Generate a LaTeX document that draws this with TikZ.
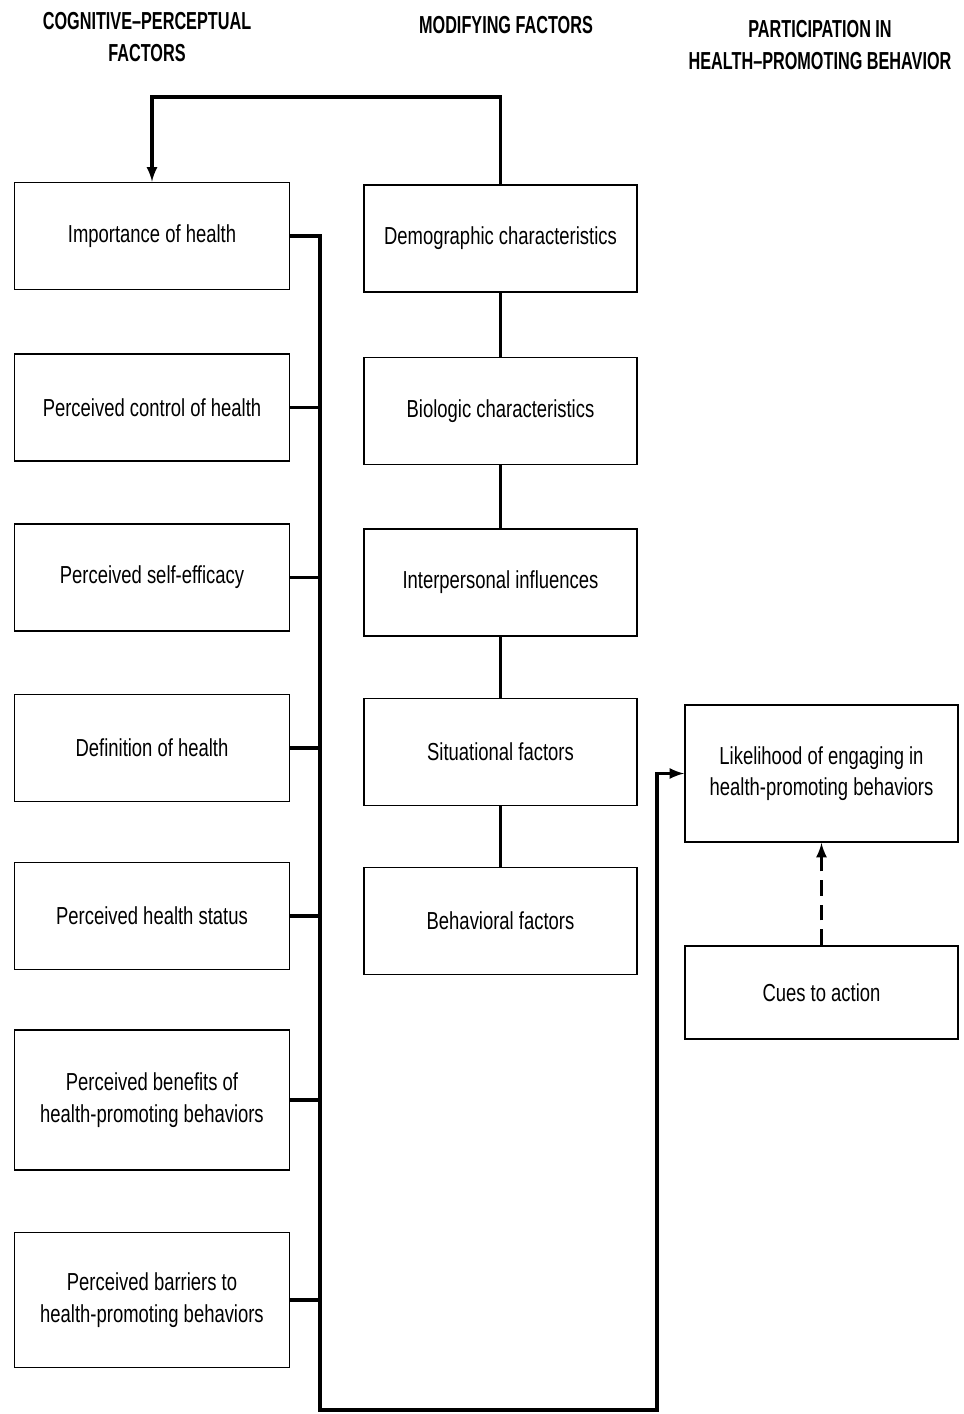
\documentclass[tikz,border=0pt]{standalone}
\usepackage{fontspec}
\setmainfont{Liberation Sans}[FakeStretch=0.75]
\newfontfamily\headfont{Liberation Sans}[FakeStretch=0.66]
\usetikzlibrary{arrows}
\usetikzlibrary{positioning}

\tikzset{
	factor/.style={draw, line width=1.1pt, minimum width=5.5cm, minimum height=2.14cm,
		align=center, inner sep=2pt, font=\fontsize{14}{18}\selectfont},
	header/.style={align=center, font=\headfont\bfseries\fontsize{14}{18.5}\selectfont},
	link/.style={line width=1.8pt}
}

\begin{document}
\begin{tikzpicture}[x=0.02cm, y=-0.02cm]
		\useasboundingbox (0,0) rectangle (964,1414);
		% column headers
		\node[header] (hcog) at (147,37) {COGNITIVE\textendash PERCEPTUAL\\FACTORS};
		\node[header] (hmod) at (506,25) {MODIFYING FACTORS};
		\node[header] (hpar) at (820,45) {PARTICIPATION IN\\HEALTH\textendash PROMOTING BEHAVIOR};
		
		% cognitive-perceptual factors
		\node[factor] (cog1) at (152,236) {Importance of health};
		\node[factor] (cog2) at (152,407.5) {Perceived control of health};
		\node[factor] (cog3) at (152,577.5) {Perceived self-efficacy};
		\node[factor] (cog4) at (152,748) {Definition of health};
		\node[factor] (cog5) at (152,916) {Perceived health status};
		\node[factor, minimum height=2.8cm] (cog6) at (152,1100) {Perceived benefits of\\health-promoting behaviors};
		\node[factor, minimum height=2.7cm] (cog7) at (152,1300) {Perceived barriers to\\health-promoting behaviors};
		
		% modifying factors
		\node[factor, minimum width=5.46cm] (mod1) at (500.5,238.5) {Demographic characteristics};
		\node[factor, minimum width=5.46cm] (mod2) at (500.5,411) {Biologic characteristics};
		\node[factor, minimum width=5.46cm] (mod3) at (500.5,582.5) {Interpersonal influences};
		\node[factor, minimum width=5.46cm] (mod4) at (500.5,752) {Situational factors};
		\node[factor, minimum width=5.46cm] (mod5) at (500.5,921) {Behavioral factors};
		
		% participation
		\node[factor, minimum width=5.46cm, minimum height=2.74cm] (like) at (821.5,773.5) {Likelihood of engaging in\\health-promoting behaviors};
		\node[factor, minimum width=5.46cm, minimum height=1.86cm] (cues) at (821.5,992.5) {Cues to action};
		
		% connectors
		\coordinate (busend) at (320,1410);
		\coordinate (turn) at (657,1410);
		\coordinate (fback) at (152,97);
		\draw[link, -latex] (cog1.east) -| (busend) -- (turn) |- (like.west);
		\foreach \i in {2,...,7}
			\draw[link] (cog\i.east) -- (cog\i.east -| busend);
		\foreach \i/\j in {1/2,2/3,3/4,4/5}
			\draw[link] (mod\i.south) -- (mod\j.north);
		\draw[link, -latex] (mod1.north) |- (fback) -- (cog1.north);
		\draw[link, dashed, dash pattern=on 9pt off 5pt, -latex] (cues.north) -- (like.south);
	\end{tikzpicture}
\end{document}
